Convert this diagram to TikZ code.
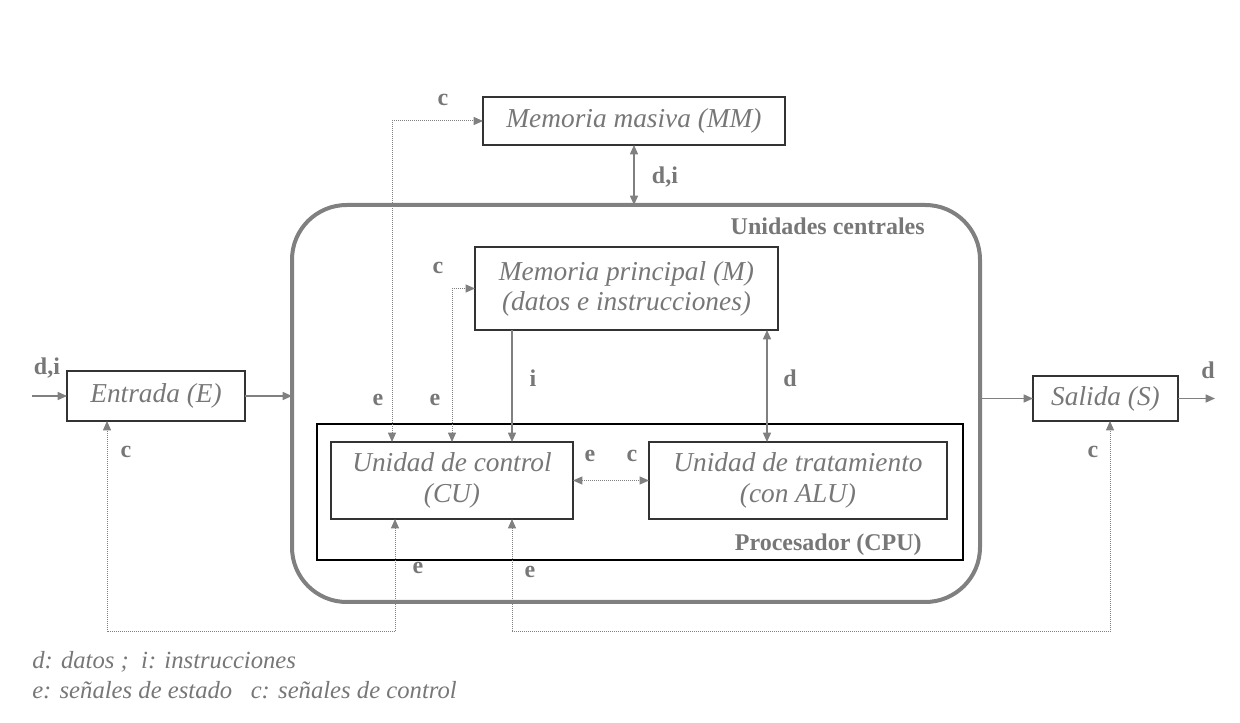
\documentclass[tikz,border=0pt]{standalone}
\usepackage{fontspec}
\setmainfont{Liberation Serif}
\usetikzlibrary{arrows.meta}
\definecolor{txt}{HTML}{777777}
\definecolor{ln}{HTML}{808080}
\definecolor{bx}{HTML}{333333}
\tikzset{
  box/.style={draw=bx, line width=1.1pt, inner sep=0pt, outer sep=0pt, text=txt,
    font=\fontsize{20.5}{23}\selectfont\itshape, align=center},
  lbl/.style={text=txt, inner sep=0pt, font=\fontsize{18}{20}\selectfont\bfseries},
  tip/.style={-{Triangle[length=7pt,width=6pt]}},
  dtip/.style={{Triangle[length=7pt,width=6pt]}-{Triangle[length=7pt,width=6pt]}},
  solidln/.style={draw=ln, line width=1.1pt},
  dotln/.style={draw=ln, line width=0.75pt, dash pattern=on 0.75pt off 0.75pt},
  legend/.style={anchor=west, text=txt, inner sep=0pt, font=\fontsize{18.5}{20}\selectfont\itshape},
}
\begin{document}
\begin{tikzpicture}[x=0.75pt,y=-0.75pt]
\useasboundingbox (0,0) rectangle (1240,723);
% boxes
\node[draw=ln, line width=3pt, rounded corners=41pt, minimum width=516pt, minimum height=297.75pt, inner sep=0pt, outer sep=0pt] (central) at (636,403.5) {};
\node[draw=black, line width=1.1pt, minimum width=484.5pt, minimum height=102pt, inner sep=0pt, outer sep=0pt] (proc) at (640,492) {};
\node[box, minimum width=226.5pt, minimum height=36pt] (MM) at (634,121) {Memoria masiva (MM)};
\node[box, minimum width=227.25pt, minimum height=62.25pt, font=\fontsize{20.5}{22.5}\selectfont\itshape] (M) at (626.5,288.5) {Memoria principal (M)\\(datos e instrucciones)};
\node[box, minimum width=133.5pt, minimum height=37.5pt] (E) at (156,396) {Entrada (E)};
\node[box, minimum width=108.75pt, minimum height=33.75pt] (S) at (1105.5,398.5) {Salida (S)};
\node[box, minimum width=181.5pt, minimum height=57.75pt] (CU) at (452,480.5) {Unidad de control\\(CU)};
\node[box, minimum width=223.5pt, minimum height=57.75pt] (UT) at (798,480.5) {Unidad de tratamiento\\(con ALU)};
% helper coordinates
\coordinate (inE) at (32,396);
\coordinate (outS) at (1215,398.5);
\coordinate (xi) at (512,0);
\coordinate (xd) at (767,0);
\coordinate (xa) at (392,0);
\coordinate (xb) at (452,0);
\coordinate (xc) at (395,0);
\coordinate (xE) at (107,0);
\coordinate (xS) at (1110,0);
\coordinate (yb) at (0,632);
% solid connectors
\draw[solidln, tip] (inE) -- (E.west);
\draw[solidln, tip] (E.east) -- (E.east -| central.west);
\draw[solidln, tip] (central.east |- S.west) -- (S.west);
\draw[solidln, tip] (S.east) -- (outS);
\draw[solidln, dtip] (MM.south) -- (MM.south |- central.north);
\draw[solidln, tip] (xi |- M.south) -- (xi |- CU.north);
\draw[solidln, dtip] (xd |- M.south) -- (xd |- UT.north);
% dotted connectors
\draw[dotln, dtip] (CU.east) -- (UT.west);
\draw[dotln, dtip] (xa |- CU.north) -- (xa |- MM.west) -- (MM.west);
\draw[dotln, dtip] (xb |- CU.north) -- (xb |- M.west) -- (M.west);
\draw[dotln, dtip] (xc |- CU.south) -- (xc |- yb) -- (xE |- yb) -- (xE |- E.south);
\draw[dotln, dtip] (xi |- CU.south) -- (xi |- yb) -- (xS |- yb) -- (xS |- S.south);
% labels
\node[lbl] (l1) at (443,100) {c};
\node[lbl] (l2) at (665,177) {d,i};
\node[lbl, anchor=east] (l3) at (925,226) {Unidades centrales};
\node[lbl] (l4) at (438,268) {c};
\node[lbl] (l5) at (378,400) {e};
\node[lbl] (l6) at (435,400) {e};
\node[lbl] (l7) at (533,378) {i};
\node[lbl] (l8) at (790,378) {d};
\node[lbl] (l9) at (47,368) {d,i};
\node[lbl] (l10) at (126,452) {c};
\node[lbl] (l11) at (590,456) {e};
\node[lbl] (l12) at (632,456) {c};
\node[lbl, anchor=east] (l13) at (922,545) {Procesador (CPU)};
\node[lbl] (l14) at (418,568) {e};
\node[lbl] (l15) at (530,572) {e};
\node[lbl] (l16) at (1093,452) {c};
\node[lbl] (l17) at (1208,370) {d};
% legend
\node[legend] (leg1) at (32,662) {d: datos ;\ \ i: instrucciones};
\node[legend] (leg2) at (32,690) {e: señales de estado\ \ \ c: señales de control};
\end{tikzpicture}
\end{document}
